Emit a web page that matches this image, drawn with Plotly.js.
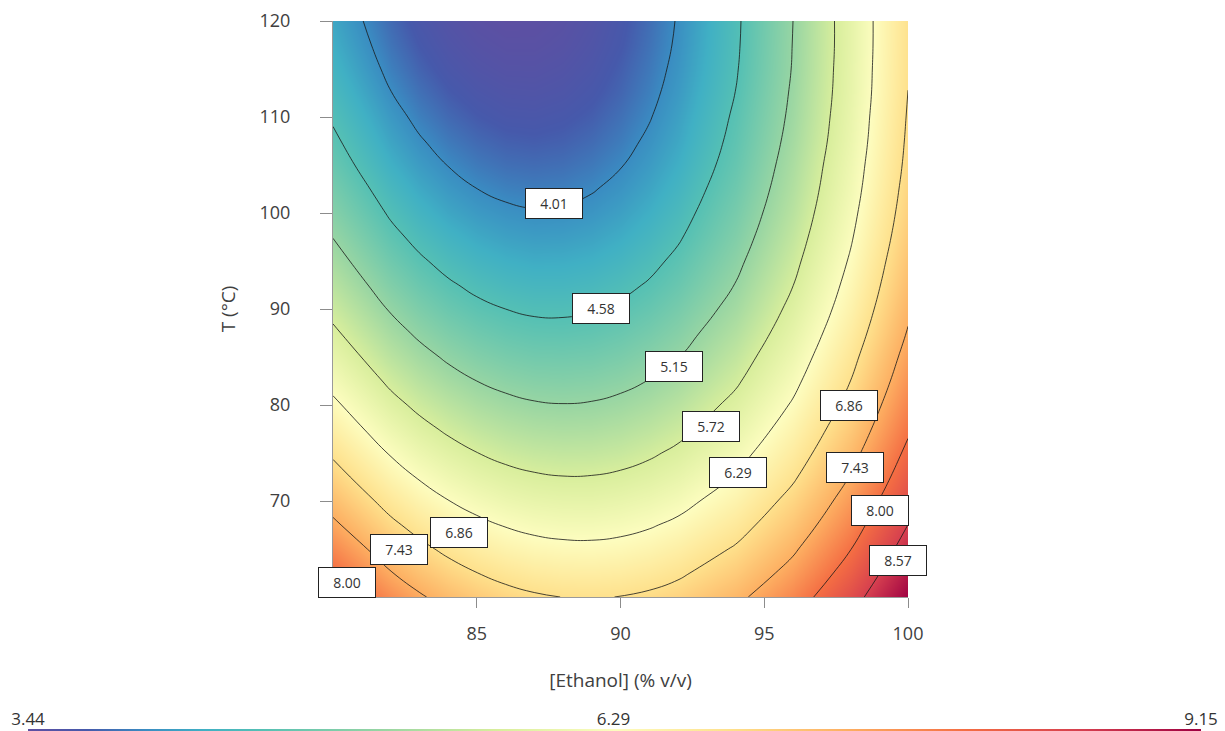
<!DOCTYPE html>
<html>
<head>
<meta charset="utf-8">
<script src="https://cdn.plot.ly/plotly-3.0.1.min.js"></script>
<style>
  html, body { margin: 0; padding: 0; background: #fff; }
  #chart { width: 1225px; height: 731px; }
</style>
</head>
<body>
<div id="chart"></div>
<script>
// [Ethanol] (% v/v) grid columns
const ethanol = [80, 82, 83, 84, 85, 86, 87, 88, 89, 90, 91, 92, 94, 96, 98, 100];
// T (°C) grid rows
const temperature = [60, 62.5, 65, 67.5, 70, 72.5, 75, 77.5, 80, 82.5, 85, 87.5, 90,
                     92.5, 95, 97.5, 100, 102.5, 105, 107.5, 110, 112.5, 115, 117.5, 120];
// response values (rows = temperature, cols = ethanol)
const row60    = [8.30, 7.72, 7.482, 7.28, 7.120, 6.99, 6.906, 6.855, 6.841, 6.865, 6.925, 7.02, 7.33, 7.78, 8.39, 9.14];
const row62_5  = [8.03, 7.453, 7.219, 7.024, 6.865, 6.744, 6.659, 6.612, 6.602, 6.629, 6.693, 6.795, 7.109, 7.571, 8.182, 8.942];
const row65    = [7.77, 7.20, 6.966, 6.77, 6.619, 6.50, 6.421, 6.38, 6.371, 6.40, 6.470, 6.58, 6.90, 7.37, 7.99, 8.75];
const row67_5  = [7.509, 6.947, 6.721, 6.533, 6.382, 6.268, 6.191, 6.152, 6.149, 6.184, 6.255, 6.365, 6.694, 7.172, 7.798, 8.573];
const row70    = [7.26, 6.71, 6.486, 6.30, 6.154, 6.04, 5.971, 5.94, 5.936, 5.98, 6.050, 6.16, 6.50, 6.99, 7.62, 8.40];
const row72_5  = [7.024, 6.477, 6.259, 6.079, 5.935, 5.829, 5.760, 5.728, 5.733, 5.775, 5.854, 5.971, 6.315, 6.808, 7.449, 8.239];
const row75    = [6.80, 6.26, 6.042, 5.87, 5.726, 5.62, 5.558, 5.53, 5.538, 5.58, 5.667, 5.79, 6.14, 6.64, 7.29, 8.09];
const row77_5  = [6.576, 6.044, 5.834, 5.660, 5.524, 5.426, 5.364, 5.340, 5.352, 5.402, 5.489, 5.613, 5.972, 6.481, 7.137, 7.942];
const row80    = [6.37, 5.84, 5.634, 5.47, 5.333, 5.24, 5.180, 5.16, 5.176, 5.23, 5.320, 5.45, 5.82, 6.33, 6.99, 7.81];
const row82_5  = [6.163, 5.646, 5.444, 5.278, 5.150, 5.059, 5.005, 4.988, 5.008, 5.065, 5.160, 5.292, 5.666, 6.190, 6.861, 7.682];
const row85    = [5.97, 5.46, 5.263, 5.10, 4.976, 4.89, 4.839, 4.83, 4.849, 4.91, 5.009, 5.14, 5.53, 6.06, 6.74, 7.57];
const row87_5  = [5.787, 5.285, 5.090, 4.932, 4.812, 4.728, 4.682, 4.672, 4.700, 4.765, 4.867, 5.006, 5.396, 5.934, 6.621, 7.457];
const row90    = [5.61, 5.12, 4.927, 4.77, 4.655, 4.58, 4.533, 4.53, 4.559, 4.63, 4.733, 4.88, 5.27, 5.82, 6.51, 7.36];
const row92_5  = [5.446, 4.960, 4.772, 4.622, 4.509, 4.433, 4.394, 4.392, 4.427, 4.500, 4.609, 4.756, 5.161, 5.715, 6.417, 7.267];
const row95    = [5.29, 4.81, 4.627, 4.48, 4.371, 4.30, 4.264, 4.27, 4.305, 4.38, 4.495, 4.65, 5.06, 5.62, 6.33, 7.19];
const row97_5  = [5.142, 4.670, 4.490, 4.348, 4.242, 4.174, 4.142, 4.148, 4.191, 4.271, 4.388, 4.543, 4.963, 5.531, 6.249, 7.114];
const row100   = [5.00, 4.54, 4.363, 4.22, 4.122, 4.06, 4.030, 4.04, 4.086, 4.17, 4.291, 4.45, 4.88, 5.45, 6.18, 7.05];
const row102_5 = [4.874, 4.418, 4.245, 4.110, 4.012, 3.951, 3.927, 3.941, 3.991, 4.079, 4.204, 4.366, 4.801, 5.385, 6.117, 6.998];
const row105   = [4.75, 4.30, 4.136, 4.004, 3.910, 3.85, 3.833, 3.85, 3.905, 3.996, 4.125, 4.29, 4.73, 5.33, 6.07, 6.95];
const row107_5 = [4.641, 4.200, 4.036, 3.908, 3.818, 3.764, 3.748, 3.769, 3.827, 3.922, 4.055, 4.224, 4.675, 5.274, 6.021, 6.917];
const row110   = [4.54, 4.11, 3.944, 3.82, 3.734, 3.68, 3.672, 3.70, 3.758, 3.86, 3.993, 4.17, 4.63, 5.23, 5.99, 6.89];
const row112_5 = [4.445, 4.019, 3.862, 3.742, 3.659, 3.613, 3.604, 3.633, 3.699, 3.801, 3.941, 4.118, 4.584, 5.198, 5.961, 6.862];
const row115   = [4.36, 3.94, 3.789, 3.67, 3.593, 3.55, 3.547, 3.58, 3.648, 3.76, 3.899, 4.08, 4.55, 5.17, 5.95, 6.845];
const row117_5 = [4.284, 3.874, 3.724, 3.612, 3.536, 3.498, 3.497, 3.533, 3.607, 3.717, 3.864, 4.049, 4.530, 5.159, 5.937, 6.838];
const row120   = [4.22, 3.82, 3.669, 3.56, 3.489, 3.45, 3.457, 3.50, 3.574, 3.69, 3.840, 4.03, 4.52, 5.15, 5.94, 6.83];
const response = [row60, row62_5, row65, row67_5, row70, row72_5, row75, row77_5, row80, row82_5,
                  row85, row87_5, row90, row92_5, row95, row97_5, row100, row102_5, row105,
                  row107_5, row110, row112_5, row115, row117_5, row120];

// contour levels
const levelStart = 4.01, levelEnd = 8.57, levelStep = 0.57;
// colour scale range and tick labels
const scaleMin = 3.44, scaleMax = 9.15;
const scaleTicks = [3.44, 6.29, 9.15];
const scaleTickText = ['3.44', '6.29', '9.15'];

// contour label texts
const contourLabels = ['4.01', '4.58', '5.15', '5.72', '6.29', '6.86', '7.43', '8.00', '8.57', '6.86', '7.43', '8.00'];

const spectralR = [
  [0.0, '#5e4fa2'], [0.05, '#4659ab'], [0.1, '#3a8cc2'], [0.15, '#40b0c4'], [0.2, '#55c0b4'],
  [0.3, '#97d5a3'], [0.4, '#d8ee9c'], [0.5, '#fdfdbf'], [0.6, '#fee08b'], [0.7, '#fdae61'],
  [0.8, '#f46d43'], [0.9, '#d53e4f'], [1.0, '#9e0142']
];

// label box positions (data coordinates)
const labelPos = [
  [87.69, 100.94], [89.32, 90.10], [91.86, 83.96], [93.15, 77.71], [94.09, 73.02],
  [97.95, 80.0], [98.16, 73.54], [99.03, 68.96], [99.65, 63.85],
  [84.38, 66.67], [82.30, 64.90], [80.49, 61.46]
];

const txtColor = '#404040';
const fontFam = '"Open Sans", "Noto Sans", sans-serif';

const heat = {
  type: 'heatmap',
  x: ethanol, y: temperature, z: response,
  zsmooth: 'best',
  zmin: scaleMin, zmax: scaleMax,
  colorscale: spectralR,
  hoverinfo: 'skip',
  showscale: true,
  colorbar: {
    orientation: 'h',
    xref: 'paper', x: 0.4896, xanchor: 'center',
    yref: 'container', y: 0, yanchor: 'bottom',
    len: 1173, lenmode: 'pixels',
    thickness: 2, thicknessmode: 'pixels',
    outlinewidth: 0, borderwidth: 0, xpad: 0, ypad: 0,
    tickmode: 'array', tickvals: scaleTicks, ticktext: scaleTickText,
    ticks: 'inside', ticklen: 3, tickcolor: 'rgba(0,0,0,0)',
    ticklabelposition: 'inside', ticklabeloverflow: 'allow',
    tickfont: {size: 17, color: '#333', family: fontFam}
  }
};

const lines = {
  type: 'contour',
  x: ethanol, y: temperature, z: response,
  autocontour: false,
  contours: {start: levelStart, end: levelEnd, size: levelStep, coloring: 'none', showlabels: false},
  line: {color: 'rgba(25,25,25,0.8)', width: 1, smoothing: 1.3},
  showscale: false,
  hoverinfo: 'skip'
};

const annotations = contourLabels.map((t, i) => ({
  x: labelPos[i][0], y: labelPos[i][1], xref: 'x', yref: 'y',
  text: t, showarrow: false,
  font: {size: 14, color: '#333', family: fontFam},
  bgcolor: '#ffffff', bordercolor: '#222', borderwidth: 1, borderpad: 1,
  width: 54, height: 27, align: 'center', valign: 'middle'
}));

const layout = {
  width: 1225, height: 731,
  margin: {l: 333, r: 317, t: 21, b: 134, pad: 0},
  paper_bgcolor: '#ffffff', plot_bgcolor: '#ffffff',
  font: {family: fontFam, color: txtColor},
  showlegend: false,
  xaxis: {
    range: [80, 100], tickmode: 'array', tickvals: [85, 90, 95, 100],
    ticks: 'outside', ticklen: 10, tickcolor: '#8c8c8c', tickwidth: 1,
    showline: true, linecolor: '#9a9a9a', linewidth: 1,
    showgrid: false, zeroline: false, automargin: false,
    ticklabelstandoff: 10,
    tickfont: {size: 18, color: txtColor, family: fontFam},
    title: {text: '[Ethanol] (% v/v)', font: {size: 19, color: txtColor, family: fontFam}, standoff: 30}
  },
  yaxis: {
    range: [60, 120], tickmode: 'array', tickvals: [70, 80, 90, 100, 110, 120],
    ticks: 'outside', ticklen: 12, tickcolor: '#8c8c8c', tickwidth: 1,
    showline: true, linecolor: '#9a9a9a', linewidth: 1,
    showgrid: false, zeroline: false, automargin: false,
    ticklabelstandoff: 26,
    tickfont: {size: 18, color: txtColor, family: fontFam},
    title: {text: 'T (°C)', font: {size: 19, color: txtColor, family: fontFam}, standoff: 18}
  },
  annotations: annotations
};

Plotly.newPlot('chart', [heat, lines], layout, {displayModeBar: false, staticPlot: true});
</script>
</body>
</html>
